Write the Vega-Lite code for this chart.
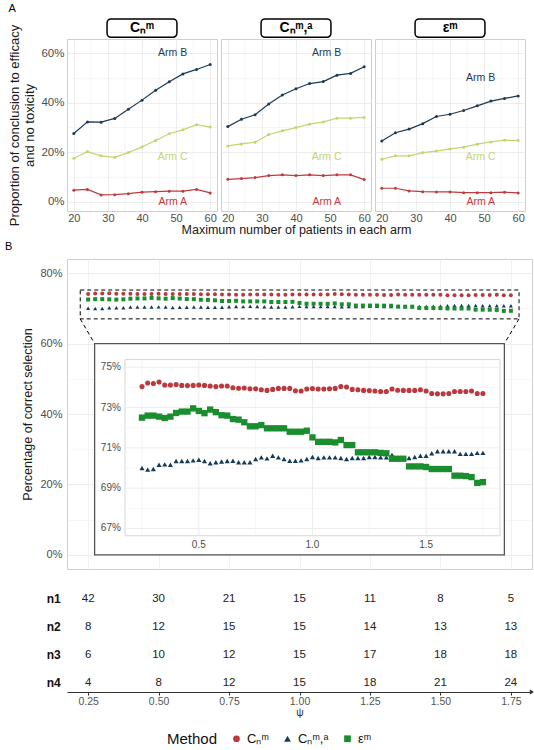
{
"$schema":"https://vega.github.io/schema/vega-lite/v6.json",
"background":"white",
"padding":{"left":4,"right":2,"top":2,"bottom":2},
"config":{
 "font":"Liberation Sans",
 "view":{"stroke":"#CFCFCF","strokeWidth":1},
 "axis":{"domain":false,"ticks":false,"labelOverlap":false,"gridColor":"#EBEBEB","labelColor":"#4D4D4D","titleColor":"#1A1A1A","titleFontWeight":"normal","labelFont":"Liberation Sans","titleFont":"Liberation Sans"},
 "title":{"anchor":"start","fontSize":11,"fontWeight":"normal","frame":"bounds","offset":0,"font":"Liberation Sans"},
 "legend":{"orient":"bottom","direction":"horizontal","titleOrient":"left","titleFontSize":15,"labelFontSize":13,"titleFontWeight":"normal","titleColor":"#111","labelColor":"#111","symbolSize":45,"columnPadding":12,"titlePadding":12,"offset":14,"layout":{"bottom":{"anchor":"middle"}}}
},
"datasets":{
 "armA":[
  {"method":"cnm","n":20,"A":4.6,"B":27.5,"C":17.5},{"method":"cnm","n":24,"A":4.9,"B":32.2,"C":20.2},{"method":"cnm","n":28,"A":2.7,"B":32.1,"C":18.5},{"method":"cnm","n":32,"A":2.8,"B":33.6,"C":17.9},{"method":"cnm","n":36,"A":3.2,"B":37.3,"C":19.8},{"method":"cnm","n":40,"A":3.8,"B":41.0,"C":22.1},{"method":"cnm","n":44,"A":4.0,"B":45.0,"C":24.7},{"method":"cnm","n":48,"A":4.2,"B":48.4,"C":27.4},{"method":"cnm","n":52,"A":4.2,"B":51.6,"C":29.0},{"method":"cnm","n":56,"A":4.9,"B":53.4,"C":31.1},{"method":"cnm","n":60,"A":3.5,"B":55.4,"C":30.1},
  {"method":"cnma","n":20,"A":9.0,"B":30.3,"C":22.5},{"method":"cnma","n":24,"A":9.3,"B":33.3,"C":23.3},{"method":"cnma","n":28,"A":9.7,"B":35.1,"C":24.0},{"method":"cnma","n":32,"A":10.5,"B":39.4,"C":27.1},{"method":"cnma","n":36,"A":10.8,"B":43.1,"C":28.6},{"method":"cnma","n":40,"A":10.5,"B":45.6,"C":29.9},{"method":"cnma","n":44,"A":10.8,"B":47.7,"C":31.3},{"method":"cnma","n":48,"A":10.5,"B":48.5,"C":32.2},{"method":"cnma","n":52,"A":10.8,"B":51.1,"C":33.7},{"method":"cnma","n":56,"A":10.8,"B":51.8,"C":33.7},{"method":"cnma","n":60,"A":8.9,"B":54.5,"C":34.0},
  {"method":"em","n":20,"A":5.4,"B":24.5,"C":17.1},{"method":"em","n":24,"A":5.4,"B":27.8,"C":18.5},{"method":"em","n":28,"A":4.3,"B":29.3,"C":18.5},{"method":"em","n":32,"A":4.0,"B":31.5,"C":19.8},{"method":"em","n":36,"A":3.9,"B":34.4,"C":20.4},{"method":"em","n":40,"A":3.9,"B":35.3,"C":21.3},{"method":"em","n":44,"A":3.6,"B":36.8,"C":22.0},{"method":"em","n":48,"A":3.6,"B":38.7,"C":23.2},{"method":"em","n":52,"A":3.6,"B":40.6,"C":24.1},{"method":"em","n":56,"A":3.8,"B":41.7,"C":24.8},{"method":"em","n":60,"A":3.5,"B":42.7,"C":24.7}
 ],
 "armlab":[
  {"method":"cnm","arm":"B","n":49,"p":60,"lab":"Arm B"},{"method":"cnm","arm":"C","n":49,"p":18,"lab":"Arm C"},{"method":"cnm","arm":"A","n":49,"p":0,"lab":"Arm A"},
  {"method":"cnma","arm":"B","n":49,"p":60,"lab":"Arm B"},{"method":"cnma","arm":"C","n":49,"p":18,"lab":"Arm C"},{"method":"cnma","arm":"A","n":49,"p":0,"lab":"Arm A"},
  {"method":"em","arm":"B","n":49,"p":50,"lab":"Arm B"},{"method":"em","arm":"C","n":49,"p":18,"lab":"Arm C"},{"method":"em","arm":"A","n":49,"p":0,"lab":"Arm A"}
 ],
 "minorx":[{"g":25},{"g":35},{"g":45},{"g":55}],
 "pts":[
{"psi":0.25,"cnm":74.04,"cnma":70.0,"em":72.5},
{"psi":0.275,"cnm":74.22,"cnma":69.92,"em":72.6},
{"psi":0.3,"cnm":74.19,"cnma":69.95,"em":72.6},
{"psi":0.325,"cnm":74.27,"cnma":70.16,"em":72.55},
{"psi":0.35,"cnm":74.12,"cnma":70.18,"em":72.48},
{"psi":0.375,"cnm":74.12,"cnma":70.16,"em":72.55},
{"psi":0.4,"cnm":74.14,"cnma":70.35,"em":72.73},
{"psi":0.425,"cnm":74.1,"cnma":70.35,"em":72.8},
{"psi":0.45,"cnm":74.09,"cnma":70.35,"em":72.8},
{"psi":0.475,"cnm":74.1,"cnma":70.38,"em":72.96},
{"psi":0.5,"cnm":74.12,"cnma":70.41,"em":72.83},
{"psi":0.525,"cnm":74.1,"cnma":70.35,"em":72.72},
{"psi":0.55,"cnm":74.07,"cnma":70.24,"em":72.9},
{"psi":0.575,"cnm":74.04,"cnma":70.29,"em":72.77},
{"psi":0.6,"cnm":74.07,"cnma":70.32,"em":72.62},
{"psi":0.625,"cnm":74.07,"cnma":70.35,"em":72.6},
{"psi":0.65,"cnm":73.98,"cnma":70.36,"em":72.43},
{"psi":0.675,"cnm":73.96,"cnma":70.29,"em":72.4},
{"psi":0.7,"cnm":73.97,"cnma":70.29,"em":72.27},
{"psi":0.725,"cnm":73.93,"cnma":70.29,"em":72.07},
{"psi":0.75,"cnm":73.93,"cnma":70.45,"em":72.07},
{"psi":0.775,"cnm":73.88,"cnma":70.53,"em":72.13},
{"psi":0.8,"cnm":73.85,"cnma":70.48,"em":71.97},
{"psi":0.825,"cnm":73.9,"cnma":70.61,"em":71.97},
{"psi":0.85,"cnm":73.95,"cnma":70.53,"em":71.97},
{"psi":0.875,"cnm":73.95,"cnma":70.45,"em":71.97},
{"psi":0.9,"cnm":73.95,"cnma":70.36,"em":71.8},
{"psi":0.925,"cnm":73.83,"cnma":70.36,"em":71.8},
{"psi":0.95,"cnm":73.82,"cnma":70.38,"em":71.8},
{"psi":0.975,"cnm":73.92,"cnma":70.45,"em":71.85},
{"psi":1.0,"cnm":73.94,"cnma":70.55,"em":71.52},
{"psi":1.025,"cnm":73.92,"cnma":70.5,"em":71.3},
{"psi":1.05,"cnm":73.92,"cnma":70.53,"em":71.3},
{"psi":1.075,"cnm":73.93,"cnma":70.53,"em":71.3},
{"psi":1.1,"cnm":73.95,"cnma":70.53,"em":71.27},
{"psi":1.125,"cnm":74.04,"cnma":70.5,"em":71.39},
{"psi":1.15,"cnm":74.02,"cnma":70.45,"em":71.14},
{"psi":1.175,"cnm":73.9,"cnma":70.5,"em":71.14},
{"psi":1.2,"cnm":73.88,"cnma":70.5,"em":70.78},
{"psi":1.225,"cnm":73.85,"cnma":70.5,"em":70.78},
{"psi":1.25,"cnm":73.84,"cnma":70.55,"em":70.78},
{"psi":1.275,"cnm":73.82,"cnma":70.55,"em":70.78},
{"psi":1.3,"cnm":73.8,"cnma":70.53,"em":70.75},
{"psi":1.325,"cnm":73.8,"cnma":70.53,"em":70.73},
{"psi":1.35,"cnm":73.92,"cnma":70.65,"em":70.46},
{"psi":1.375,"cnm":73.86,"cnma":70.5,"em":70.46},
{"psi":1.4,"cnm":73.85,"cnma":70.5,"em":70.46},
{"psi":1.425,"cnm":73.85,"cnma":70.5,"em":70.08},
{"psi":1.45,"cnm":73.85,"cnma":70.55,"em":70.08},
{"psi":1.475,"cnm":73.88,"cnma":70.61,"em":70.08},
{"psi":1.5,"cnm":73.82,"cnma":70.61,"em":70.05},
{"psi":1.525,"cnm":73.7,"cnma":70.73,"em":69.95},
{"psi":1.55,"cnm":73.68,"cnma":70.83,"em":69.95},
{"psi":1.575,"cnm":73.68,"cnma":70.83,"em":69.95},
{"psi":1.6,"cnm":73.7,"cnma":70.83,"em":69.95},
{"psi":1.625,"cnm":73.8,"cnma":70.83,"em":69.62},
{"psi":1.65,"cnm":73.8,"cnma":70.7,"em":69.62},
{"psi":1.675,"cnm":73.8,"cnma":70.7,"em":69.6},
{"psi":1.7,"cnm":73.82,"cnma":70.7,"em":69.55},
{"psi":1.725,"cnm":73.7,"cnma":70.75,"em":69.26},
{"psi":1.75,"cnm":73.7,"cnma":70.75,"em":69.3}
 ],
 "tbl":[
  {"row":1,"psi":0.25,"n":42},{"row":1,"psi":0.5,"n":30},{"row":1,"psi":0.75,"n":21},{"row":1,"psi":1.0,"n":15},{"row":1,"psi":1.25,"n":11},{"row":1,"psi":1.5,"n":8},{"row":1,"psi":1.75,"n":5},
  {"row":2,"psi":0.25,"n":8},{"row":2,"psi":0.5,"n":12},{"row":2,"psi":0.75,"n":15},{"row":2,"psi":1.0,"n":15},{"row":2,"psi":1.25,"n":14},{"row":2,"psi":1.5,"n":13},{"row":2,"psi":1.75,"n":13},
  {"row":3,"psi":0.25,"n":6},{"row":3,"psi":0.5,"n":10},{"row":3,"psi":0.75,"n":12},{"row":3,"psi":1.0,"n":15},{"row":3,"psi":1.25,"n":17},{"row":3,"psi":1.5,"n":18},{"row":3,"psi":1.75,"n":18},
  {"row":4,"psi":0.25,"n":4},{"row":4,"psi":0.5,"n":8},{"row":4,"psi":0.75,"n":12},{"row":4,"psi":1.0,"n":15},{"row":4,"psi":1.25,"n":18},{"row":4,"psi":1.5,"n":21},{"row":4,"psi":1.75,"n":24}
 ],
 "rowlab":[{"row":1,"lab":"n1"},{"row":2,"lab":"n2"},{"row":3,"lab":"n3"},{"row":4,"lab":"n4"}],
 "hgrid":[{"g":67},{"g":68},{"g":69},{"g":70},{"g":71},{"g":72},{"g":73},{"g":74},{"g":75}],
 "vgrid":[{"g":0.25},{"g":0.5},{"g":0.75},{"g":1.0},{"g":1.25},{"g":1.5},{"g":1.75}],
 "ylab":[{"g":67,"lab":"67%"},{"g":69,"lab":"69%"},{"g":71,"lab":"71%"},{"g":73,"lab":"73%"},{"g":75,"lab":"75%"}],
 "xlab":[{"g":0.5},{"g":1.0},{"g":1.5}]
},
"spacing":4,
"vconcat":[
 {
  "title":{"text":"A"},
  "spacing":4,
  "bounds":"flush",
  "hconcat":[
     {"width":150,"height":172,
      "layer":[
       {"data":{"name":"minorx"},"mark":{"type":"rule","stroke":"#EBEBEB","strokeWidth":0.45},
        "encoding":{"x":{"field":"g","type":"quantitative","scale":{"domain":[18,62],"nice":false,"zero":false}}}},
       {"data":{"values":[{}]},"mark":{"type":"rect","fill":"white","stroke":"black","strokeWidth":1.5,"cornerRadius":4},
        "encoding":{"x":{"datum":29.75,"type":"quantitative","scale":{"domain":[18,62],"nice":false,"zero":false}},"x2":{"datum":50.25},"y":{"datum":66.4,"type":"quantitative","scale":{"domain":[-3.8,65.7],"nice":false,"zero":false}},"y2":{"datum":73.8}}},
       {"data":{"values":[{"label":"Cₙᵐ"}]},"mark":{"type":"text","fontWeight":"bold","fontSize":14,"color":"black","baseline":"middle"},
        "encoding":{"x":{"datum":40,"type":"quantitative","scale":{"domain":[18,62],"nice":false,"zero":false}},"y":{"datum":70.1,"type":"quantitative","scale":{"domain":[-3.8,65.7],"nice":false,"zero":false}},"text":{"field":"label"}}},
       {"data":{"name":"armA"},"transform":[{"filter":"datum.method=='cnm'"},{"fold":["A","B","C"],"as":["arm","p"]}],
        "mark":{"type":"line","strokeWidth":1.2},
        "encoding":{
         "x":{"field":"n","type":"quantitative","scale":{"domain":[18,62],"nice":false,"zero":false},"axis":{"values":[20,30,40,50,60],"tickCount":50,"labelOverlap":false,"title":null,"grid":true,"gridWidth":0.9,"labelFontSize":11,"labelPadding":1}},
         "y":{"field":"p","type":"quantitative","scale":{"domain":[-3.8,65.7],"nice":false,"zero":false},"axis":{"values":[0,10,20,30,40,50,60],"tickCount":50,"labelExpr":"datum.value % 20 == 0 ? datum.value + '%' : ''","labelOverlap":false,"title":["Proportion of conclusion to efficacy","and no toxicity"],"titleFontSize":13,"labelFontSize":11.5,"grid":true,"gridWidth":{"condition":{"test":"datum.value % 20 == 0","value":0.9},"value":0.45},"labelPadding":3,"titlePadding":4}},
         "stroke":{"field":"arm","type":"nominal","scale":{"domain":["A","B","C"],"range":["#BF3B3F","#1C3A56","#C5D56E"]},"legend":null}}},
       {"data":{"name":"armA"},"transform":[{"filter":"datum.method=='cnm'"},{"fold":["A","B","C"],"as":["arm","p"]}],
        "mark":{"type":"circle","size":9,"opacity":1},
        "encoding":{"x":{"field":"n","type":"quantitative","scale":{"domain":[18,62],"nice":false,"zero":false}},"y":{"field":"p","type":"quantitative","scale":{"domain":[-3.8,65.7],"nice":false,"zero":false}},
         "fill":{"field":"arm","type":"nominal","scale":{"domain":["A","B","C"],"range":["#BF3B3F","#1C3A56","#C5D56E"]},"legend":null}}},
       {"data":{"name":"armlab"},"transform":[{"filter":"datum.method=='cnm'"}],
        "mark":{"type":"text","fontSize":10.5},
        "encoding":{"x":{"field":"n","type":"quantitative","scale":{"domain":[18,62],"nice":false,"zero":false}},"y":{"field":"p","type":"quantitative","scale":{"domain":[-3.8,65.7],"nice":false,"zero":false}},"text":{"field":"lab"},
         "fill":{"field":"arm","type":"nominal","scale":{"domain":["A","B","C"],"range":["#BF3B3F","#1C3A56","#C5D56E"]},"legend":null}}}
      ]},
     {"width":150,"height":172,
      "layer":[
       {"data":{"name":"minorx"},"mark":{"type":"rule","stroke":"#EBEBEB","strokeWidth":0.45},
        "encoding":{"x":{"field":"g","type":"quantitative","scale":{"domain":[18,62],"nice":false,"zero":false}}}},
       {"data":{"values":[{}]},"mark":{"type":"rect","fill":"white","stroke":"black","strokeWidth":1.5,"cornerRadius":4},
        "encoding":{"x":{"datum":29.75,"type":"quantitative","scale":{"domain":[18,62],"nice":false,"zero":false}},"x2":{"datum":50.25},"y":{"datum":66.4,"type":"quantitative","scale":{"domain":[-3.8,65.7],"nice":false,"zero":false}},"y2":{"datum":73.8}}},
       {"data":{"values":[{"label":"Cₙᵐ,ᵃ"}]},"mark":{"type":"text","fontWeight":"bold","fontSize":14,"color":"black","baseline":"middle"},
        "encoding":{"x":{"datum":40,"type":"quantitative","scale":{"domain":[18,62],"nice":false,"zero":false}},"y":{"datum":70.1,"type":"quantitative","scale":{"domain":[-3.8,65.7],"nice":false,"zero":false}},"text":{"field":"label"}}},
       {"data":{"name":"armA"},"transform":[{"filter":"datum.method=='cnma'"},{"fold":["A","B","C"],"as":["arm","p"]}],
        "mark":{"type":"line","strokeWidth":1.2},
        "encoding":{
         "x":{"field":"n","type":"quantitative","scale":{"domain":[18,62],"nice":false,"zero":false},"axis":{"values":[20,30,40,50,60],"tickCount":50,"labelOverlap":false,"title":"Maximum number of patients in each arm","titleFontSize":12.5,"titlePadding":0,"grid":true,"gridWidth":0.9,"labelFontSize":11,"labelPadding":1}},
         "y":{"field":"p","type":"quantitative","scale":{"domain":[-3.8,65.7],"nice":false,"zero":false},"axis":{"values":[0,10,20,30,40,50,60],"tickCount":50,"labels":false,"title":null,"grid":true,"gridWidth":{"condition":{"test":"datum.value % 20 == 0","value":0.9},"value":0.45}}},
         "stroke":{"field":"arm","type":"nominal","scale":{"domain":["A","B","C"],"range":["#BF3B3F","#1C3A56","#C5D56E"]},"legend":null}}},
       {"data":{"name":"armA"},"transform":[{"filter":"datum.method=='cnma'"},{"fold":["A","B","C"],"as":["arm","p"]}],
        "mark":{"type":"circle","size":9,"opacity":1},
        "encoding":{"x":{"field":"n","type":"quantitative","scale":{"domain":[18,62],"nice":false,"zero":false}},"y":{"field":"p","type":"quantitative","scale":{"domain":[-3.8,65.7],"nice":false,"zero":false}},
         "fill":{"field":"arm","type":"nominal","scale":{"domain":["A","B","C"],"range":["#BF3B3F","#1C3A56","#C5D56E"]},"legend":null}}},
       {"data":{"name":"armlab"},"transform":[{"filter":"datum.method=='cnma'"}],
        "mark":{"type":"text","fontSize":10.5},
        "encoding":{"x":{"field":"n","type":"quantitative","scale":{"domain":[18,62],"nice":false,"zero":false}},"y":{"field":"p","type":"quantitative","scale":{"domain":[-3.8,65.7],"nice":false,"zero":false}},"text":{"field":"lab"},
         "fill":{"field":"arm","type":"nominal","scale":{"domain":["A","B","C"],"range":["#BF3B3F","#1C3A56","#C5D56E"]},"legend":null}}}
      ]},
     {"width":150,"height":172,
      "layer":[
       {"data":{"name":"minorx"},"mark":{"type":"rule","stroke":"#EBEBEB","strokeWidth":0.45},
        "encoding":{"x":{"field":"g","type":"quantitative","scale":{"domain":[18,62],"nice":false,"zero":false}}}},
       {"data":{"values":[{}]},"mark":{"type":"rect","fill":"white","stroke":"black","strokeWidth":1.5,"cornerRadius":4},
        "encoding":{"x":{"datum":29.75,"type":"quantitative","scale":{"domain":[18,62],"nice":false,"zero":false}},"x2":{"datum":50.25},"y":{"datum":66.4,"type":"quantitative","scale":{"domain":[-3.8,65.7],"nice":false,"zero":false}},"y2":{"datum":73.8}}},
       {"data":{"values":[{"label":"εᵐ"}]},"mark":{"type":"text","fontWeight":"bold","fontSize":14,"color":"black","baseline":"middle"},
        "encoding":{"x":{"datum":40,"type":"quantitative","scale":{"domain":[18,62],"nice":false,"zero":false}},"y":{"datum":70.1,"type":"quantitative","scale":{"domain":[-3.8,65.7],"nice":false,"zero":false}},"text":{"field":"label"}}},
       {"data":{"name":"armA"},"transform":[{"filter":"datum.method=='em'"},{"fold":["A","B","C"],"as":["arm","p"]}],
        "mark":{"type":"line","strokeWidth":1.2},
        "encoding":{
         "x":{"field":"n","type":"quantitative","scale":{"domain":[18,62],"nice":false,"zero":false},"axis":{"values":[20,30,40,50,60],"tickCount":50,"labelOverlap":false,"title":null,"grid":true,"gridWidth":0.9,"labelFontSize":11,"labelPadding":1}},
         "y":{"field":"p","type":"quantitative","scale":{"domain":[-3.8,65.7],"nice":false,"zero":false},"axis":{"values":[0,10,20,30,40,50,60],"tickCount":50,"labels":false,"title":null,"grid":true,"gridWidth":{"condition":{"test":"datum.value % 20 == 0","value":0.9},"value":0.45}}},
         "stroke":{"field":"arm","type":"nominal","scale":{"domain":["A","B","C"],"range":["#BF3B3F","#1C3A56","#C5D56E"]},"legend":null}}},
       {"data":{"name":"armA"},"transform":[{"filter":"datum.method=='em'"},{"fold":["A","B","C"],"as":["arm","p"]}],
        "mark":{"type":"circle","size":9,"opacity":1},
        "encoding":{"x":{"field":"n","type":"quantitative","scale":{"domain":[18,62],"nice":false,"zero":false}},"y":{"field":"p","type":"quantitative","scale":{"domain":[-3.8,65.7],"nice":false,"zero":false}},
         "fill":{"field":"arm","type":"nominal","scale":{"domain":["A","B","C"],"range":["#BF3B3F","#1C3A56","#C5D56E"]},"legend":null}}},
       {"data":{"name":"armlab"},"transform":[{"filter":"datum.method=='em'"}],
        "mark":{"type":"text","fontSize":10.5},
        "encoding":{"x":{"field":"n","type":"quantitative","scale":{"domain":[18,62],"nice":false,"zero":false}},"y":{"field":"p","type":"quantitative","scale":{"domain":[-3.8,65.7],"nice":false,"zero":false}},"text":{"field":"lab"},
         "fill":{"field":"arm","type":"nominal","scale":{"domain":["A","B","C"],"range":["#BF3B3F","#1C3A56","#C5D56E"]},"legend":null}}}
      ]}
  ]
 },
 {
  "title":{"text":"B","dx":-17,"offset":7},
  "width":465,"height":310,
  "layer":[
   {"layer":[
     {"data":{"name":"pts"},"transform":[{"fold":["cnm","cnma","em"],"as":["method","value"]}],
      "mark":{"type":"point","filled":true,"size":16,"opacity":1},
      "encoding":{
       "x":{"field":"psi","type":"quantitative","scale":{"domain":[0.175,1.825],"nice":false,"zero":false},"axis":{"values":[0.25,0.5,0.75,1.0,1.25,1.5,1.75],"tickCount":50,"labels":false,"title":null,"grid":true,"gridWidth":0.7}},
       "y":{"field":"value","type":"quantitative","scale":{"domain":[-4,84],"nice":false,"zero":false},"axis":{"values":[0,10,20,30,40,50,60,70,80],"tickCount":50,"labelExpr":"datum.value % 20 == 0 ? datum.value + '%' : ''","labelOverlap":false,"title":"Percentage of correct selection","titleFontSize":12.5,"labelFontSize":11,"grid":true,"gridWidth":{"condition":{"test":"datum.value % 20 == 0","value":0.9},"value":0.45},"labelPadding":5,"titlePadding":5}},
       "color":{"field":"method","type":"nominal","scale":{"domain":["cnm","cnma","em"],"range":["#B83A3F","#133A57","#1A8E2F"]},"legend":{"title":"Method","labelExpr":"datum.label == 'cnm' ? 'Cₙᵐ' : datum.label == 'cnma' ? 'Cₙᵐ,ᵃ' : 'εᵐ'"}},
       "shape":{"field":"method","type":"nominal","scale":{"domain":["cnm","cnma","em"],"range":["circle","triangle-up","square"]},"legend":{"title":"Method","labelExpr":"datum.label == 'cnm' ? 'Cₙᵐ' : datum.label == 'cnma' ? 'Cₙᵐ,ᵃ' : 'εᵐ'"}}}},
     {"data":{"values":[{}]},"mark":{"type":"rect","fillOpacity":0,"stroke":"black","strokeWidth":1,"strokeDash":[4,3]},
      "encoding":{"x":{"datum":0.222,"type":"quantitative","scale":{"domain":[0.175,1.825],"nice":false,"zero":false}},"x2":{"datum":1.779},"y":{"datum":67,"type":"quantitative","scale":{"domain":[-4,84],"nice":false,"zero":false}},"y2":{"datum":75.2}}},
     {"data":{"values":[{}]},"mark":{"type":"rule","stroke":"black","strokeWidth":1,"strokeDash":[4,3]},
      "encoding":{"x":{"datum":0.222,"type":"quantitative","scale":{"domain":[0.175,1.825],"nice":false,"zero":false}},"x2":{"datum":0.273},"y":{"datum":67,"type":"quantitative","scale":{"domain":[-4,84],"nice":false,"zero":false}},"y2":{"datum":60}}},
     {"data":{"values":[{}]},"mark":{"type":"rule","stroke":"black","strokeWidth":1,"strokeDash":[4,3]},
      "encoding":{"x":{"datum":1.779,"type":"quantitative","scale":{"domain":[0.175,1.825],"nice":false,"zero":false}},"x2":{"datum":1.727},"y":{"datum":67,"type":"quantitative","scale":{"domain":[-4,84],"nice":false,"zero":false}},"y2":{"datum":60}}},
     {"data":{"values":[{}]},"mark":{"type":"rect","fill":"white","stroke":"#555555","strokeWidth":1.3},
      "encoding":{"x":{"datum":0.273,"type":"quantitative","scale":{"domain":[0.175,1.825],"nice":false,"zero":false}},"x2":{"datum":1.727},"y":{"datum":0,"type":"quantitative","scale":{"domain":[-4,84],"nice":false,"zero":false}},"y2":{"datum":60}}}
   ]},
   {"layer":[
     {"data":{"values":[{}]},"mark":{"type":"rect","fill":"white","stroke":"#D6D6D6","strokeWidth":1},
      "encoding":{"x":{"datum":0.175,"type":"quantitative","scale":{"domain":[-0.08,1.966],"nice":false,"zero":false},"axis":null},"x2":{"datum":1.825},"y":{"datum":66.64,"type":"quantitative","scale":{"domain":[64.99,80.37],"nice":false,"zero":false},"axis":null},"y2":{"datum":75.38}}},
     {"data":{"name":"hgrid"},"mark":{"type":"rule","stroke":"#EBEBEB"},
      "encoding":{"x":{"datum":0.175,"type":"quantitative","scale":{"domain":[-0.08,1.966],"nice":false,"zero":false},"axis":null},"x2":{"datum":1.825},"y":{"field":"g","type":"quantitative","scale":{"domain":[64.99,80.37],"nice":false,"zero":false},"axis":null},
       "strokeWidth":{"condition":{"test":"datum.g % 2 == 1","value":0.9},"value":0.45}}},
     {"data":{"name":"vgrid"},"mark":{"type":"rule","stroke":"#EBEBEB"},
      "encoding":{"x":{"field":"g","type":"quantitative","scale":{"domain":[-0.08,1.966],"nice":false,"zero":false},"axis":null},"y":{"datum":66.64,"type":"quantitative","scale":{"domain":[64.99,80.37],"nice":false,"zero":false},"axis":null},"y2":{"datum":75.38},
       "strokeWidth":{"condition":{"test":"datum.g % 0.5 == 0","value":0.9},"value":0.45}}},
     {"data":{"name":"ylab"},"mark":{"type":"text","align":"right","baseline":"middle","fontSize":10,"color":"#4D4D4D"},
      "encoding":{"x":{"datum":0.157,"type":"quantitative","scale":{"domain":[-0.08,1.966],"nice":false,"zero":false},"axis":null},"y":{"field":"g","type":"quantitative","scale":{"domain":[64.99,80.37],"nice":false,"zero":false},"axis":null},"text":{"field":"lab"}}},
     {"data":{"name":"xlab"},"mark":{"type":"text","align":"center","baseline":"middle","fontSize":10,"color":"#4D4D4D"},
      "encoding":{"x":{"field":"g","type":"quantitative","scale":{"domain":[-0.08,1.966],"nice":false,"zero":false},"axis":null},"y":{"datum":66.2,"type":"quantitative","scale":{"domain":[64.99,80.37],"nice":false,"zero":false},"axis":null},"text":{"field":"g","type":"quantitative","format":".1f"}}},
     {"data":{"name":"pts"},"transform":[{"fold":["cnm","cnma","em"],"as":["method","value"]}],
      "mark":{"type":"point","filled":true,"opacity":1},
      "encoding":{
       "x":{"field":"psi","type":"quantitative","scale":{"domain":[-0.08,1.966],"nice":false,"zero":false},"axis":null},
       "y":{"field":"value","type":"quantitative","scale":{"domain":[64.99,80.37],"nice":false,"zero":false},"axis":null},
       "size":{"condition":{"test":"datum.method == 'em'","value":40},"value":26},
       "color":{"field":"method","type":"nominal","scale":{"domain":["cnm","cnma","em"],"range":["#B83A3F","#133A57","#1A8E2F"]},"legend":{"title":"Method","labelExpr":"datum.label == 'cnm' ? 'Cₙᵐ' : datum.label == 'cnma' ? 'Cₙᵐ,ᵃ' : 'εᵐ'"}},
       "shape":{"field":"method","type":"nominal","scale":{"domain":["cnm","cnma","em"],"range":["circle","triangle-up","square"]},"legend":{"title":"Method","labelExpr":"datum.label == 'cnm' ? 'Cₙᵐ' : datum.label == 'cnma' ? 'Cₙᵐ,ᵃ' : 'εᵐ'"}}}}
   ]}
  ],
  "resolve":{"scale":{"x":"independent","y":"independent"},"axis":{"x":"independent","y":"independent"}}
 },
 {
  "width":465,"height":118,
  "view":{"stroke":null},
  "layer":[
   {"data":{"name":"tbl"},"mark":{"type":"text","fontSize":11.5,"color":"#222222","baseline":"middle"},
    "encoding":{
     "x":{"field":"psi","type":"quantitative","scale":{"domain":[0.175,1.825],"nice":false,"zero":false},"axis":{"values":[0.25,0.5,0.75,1.0,1.25,1.5,1.75],"tickCount":50,"format":".2f","title":"ψ","domain":true,"domainColor":"#333333","ticks":true,"tickColor":"#333333","tickSize":3,"grid":false,"labelFontSize":10.5,"titleFontSize":10.5,"labelColor":"#555555","titleColor":"#333333","titlePadding":1,"labelPadding":1,"labelOverlap":false}},
     "y":{"field":"row","type":"quantitative","scale":{"domain":[0.104,4.32],"reverse":true,"nice":false,"zero":false},"axis":null},
     "text":{"field":"n","type":"quantitative"}}},
   {"data":{"name":"rowlab"},"mark":{"type":"text","fontSize":12,"fontWeight":"bold","color":"#111111","baseline":"middle","align":"center"},
    "encoding":{
     "x":{"datum":0.128,"type":"quantitative","scale":{"domain":[0.175,1.825],"nice":false,"zero":false}},
     "y":{"field":"row","type":"quantitative","scale":{"domain":[0.104,4.32],"reverse":true,"nice":false,"zero":false}},
     "text":{"field":"lab"}}},
   {"data":{"values":[{}]},"mark":{"type":"point","shape":"triangle-right","filled":true,"size":25,"color":"#333333","opacity":1},
    "encoding":{"x":{"datum":1.825,"type":"quantitative","scale":{"domain":[0.175,1.825],"nice":false,"zero":false}},"y":{"datum":4.32,"type":"quantitative","scale":{"domain":[0.104,4.32],"reverse":true,"nice":false,"zero":false}}}}
  ]
 }
]
}
